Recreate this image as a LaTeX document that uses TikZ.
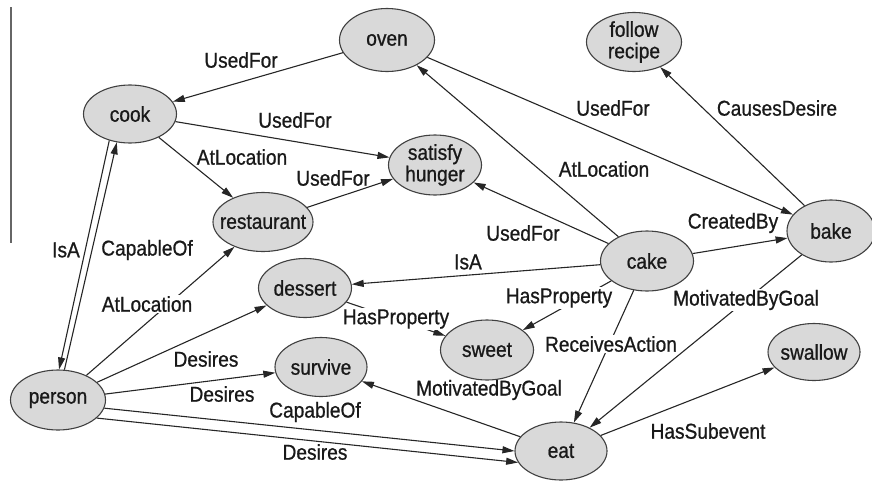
\documentclass[tikz,border=0pt]{standalone}
\usepackage{fontspec}
\newfontfamily\conceptfont[FakeStretch=0.89, FakeBold=0.8]{Liberation Sans}
\usetikzlibrary{arrows.meta, shapes.geometric}
\tikzset{
    concept/.style = {
      ellipse, draw=black!75, fill=black!15, line width=1.1pt,
      minimum width=93pt, minimum height=59pt,
      inner xsep=-20pt, inner ysep=-6pt, align=center, text=black!90,
      font=\conceptfont\fontsize{21.5}{21.5}\selectfont,
    },
    relation/.style = {
      line width=1.1pt, black!85, arrows={-Triangle[length=12pt, width=7pt]},
    },
    relation label/.style = {
      inner sep=1pt, text=black!90,
      font=\conceptfont\fontsize{21.5}{21.5}\selectfont,
    },
    cut label/.style = {relation label, fill=white},
}
\begin{document}
\begin{tikzpicture}[x=1pt, y=-1pt]
    \useasboundingbox (0,0) rectangle (872,482);

    %% Left margin rule
    \draw [black!60, line width=1.2pt] (11,7) -- (11,243);

    %% Concepts
    \node [concept, minimum width=95pt, minimum height=63pt] (oven) at (387,40) {oven};
    \node [concept, minimum width=95pt] (follow) at (634,42) {follow\\recipe};
    \node [concept, minimum height=58pt] (cook) at (130,114) {cook};
    \node [concept, minimum height=60pt] (satisfy) at (435,165) {satisfy\\hunger};
    \node [concept, minimum width=100pt] (restaurant) at (263,222) {restaurant};
    \node [concept, minimum width=88pt, minimum height=62pt] (bake) at (831,231) {bake};
    \node [concept, minimum height=60pt] (cake) at (647,261) {cake};
    \node [concept] (dessert) at (305,288) {dessert};
    \node [concept, minimum height=60pt] (sweet) at (487,350) {sweet};
    \node [concept, minimum width=92pt] (survive) at (321,367) {survive};
    \node [concept, minimum width=92pt, minimum height=57pt] (swallow) at (814,352) {swallow};
    \node [concept, minimum width=95pt, minimum height=60pt] (person) at (58,400) {person};
    \node [concept, minimum width=92pt, minimum height=58pt] (eat) at (561,451) {eat};

    %% Relations around cook and oven
    \draw [relation] (oven) -- (cook)
      node [relation label] (oven_cook) at (241,60) {UsedFor};
    \draw [relation] (cook) -- (satisfy)
      node [relation label] (cook_satisfy) at (295,120) {UsedFor};
    \draw [relation] (cook) -- (restaurant)
      node [relation label] (cook_restaurant) at (242,157) {AtLocation};
    \draw [relation] (restaurant) -- (satisfy)
      node [relation label] (restaurant_satisfy) at (333,178) {UsedFor};
    \draw [relation] (oven) -- (bake)
      node [relation label] (oven_bake) at (613,108) {UsedFor};

    %% Relations leaving cake and bake
    \draw [relation] (cake) -- (oven)
      node [relation label] (cake_oven) at (604,169) {AtLocation};
    \draw [relation] (cake) -- (satisfy)
      node [relation label] (cake_satisfy) at (523,233) {UsedFor};
    \draw [relation] (bake) -- (follow)
      node [relation label] (bake_follow) at (777,108) {CausesDesire};
    \draw [relation] (cake) -- (bake)
      node [relation label] (cake_bake) at (733,223) {CreatedBy};
    \draw [relation] (cake) -- (dessert)
      node [relation label] (cake_dessert) at (468,262) {IsA};
    \draw [relation] (cake) -- (sweet)
      node [cut label] (cake_sweet) at (559,298) {HasProperty};
    \draw [relation] (cake) -- (eat)
      node [cut label] (cake_eat) at (611,344) {ReceivesAction};
    \draw [relation] (bake) -- (eat)
      node [cut label] (bake_eat) at (746,300) {MotivatedByGoal};
    \draw [relation] (eat) -- (swallow)
      node [relation label] (eat_swallow) at (708,431) {HasSubevent};
    \draw [relation] (eat) -- (survive)
      node [relation label] (eat_survive) at (489,390) {MotivatedByGoal};
    \draw [relation] (dessert) -- (sweet)
      node [cut label] (dessert_sweet) at (396,319) {HasProperty};

    %% Relations of person
    \draw [relation] (cook.232) -- (person.88)
      node [relation label] (cook_person) at (66,250) {IsA};
    \draw [relation] (person.78) -- (cook.245)
      node [relation label] (person_cook) at (147,250) {CapableOf};
    \draw [relation] (person) -- (restaurant)
      node [cut label] (person_restaurant) at (147,304) {AtLocation};
    \draw [relation] (person) -- (dessert)
      node [relation label] (person_dessert) at (206,359) {Desires};
    \draw [relation] (person) -- (survive)
      node [relation label] (person_survive) at (222,394) {Desires};
    \draw [relation] (person.-10) -- (eat.180)
      node [relation label] (person_eat_a) at (315,412) {CapableOf};
    \draw [relation] (person.-25) -- (eat.195)
      node [relation label] (person_eat_b) at (315,452) {Desires};
\end{tikzpicture}
\end{document}
